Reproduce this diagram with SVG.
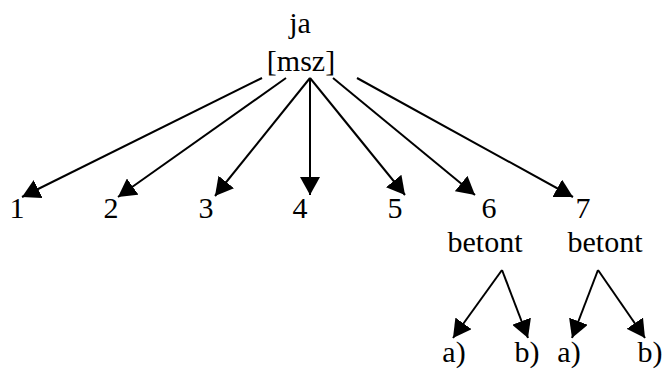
<svg xmlns="http://www.w3.org/2000/svg" width="664" height="369" viewBox="0 0 664 369">
  <defs>
    <marker id="arrow" markerUnits="userSpaceOnUse" viewBox="0 0 18 20" refX="18" refY="10" markerWidth="18" markerHeight="20" orient="auto">
      <path d="M0,0 L18,10 L0,20 Z" fill="#000"/>
    </marker>
    <style>
      .edge { stroke: #000; stroke-width: 2; fill: none; marker-end: url(#arrow); }
    </style>
  </defs>
  <rect width="664" height="369" fill="#fff"/>

  <g font-family="Liberation Serif, serif" font-size="30" fill="#000" text-anchor="middle">
    <g id="root">
      <text x="300" y="33">ja</text>
      <text x="301" y="71">[msz]</text>
    </g>

    <g id="n1"><text x="17" y="218">1</text></g>
    <g id="n2"><text x="111" y="218">2</text></g>
    <g id="n3"><text x="206" y="218">3</text></g>
    <g id="n4"><text x="300" y="218">4</text></g>
    <g id="n5"><text x="395" y="218">5</text></g>
    <g id="n6">
      <text x="489" y="218">6</text>
      <text x="485" y="252">betont</text>
    </g>
    <g id="n7">
      <text x="583" y="218">7</text>
      <text x="605" y="252">betont</text>
    </g>
    <g id="n6a"><text x="454" y="362">a)</text></g>
    <g id="n6b"><text x="527" y="362">b)</text></g>
    <g id="n7a"><text x="569" y="362">a)</text></g>
    <g id="n7b"><text x="650" y="362">b)</text></g>
  </g>

  <g id="connectors">
    <line class="edge" x1="262" y1="78" x2="22" y2="197"/>
    <line class="edge" x1="286" y1="78" x2="118" y2="197"/>
    <line class="edge" x1="310" y1="78" x2="215" y2="196"/>
    <line class="edge" x1="310" y1="78" x2="310" y2="195"/>
    <line class="edge" x1="310" y1="78" x2="405" y2="195"/>
    <line class="edge" x1="333" y1="78" x2="475" y2="195"/>
    <line class="edge" x1="357" y1="78" x2="573" y2="197"/>
    <line class="edge" x1="502" y1="270" x2="453" y2="338"/>
    <line class="edge" x1="502" y1="270" x2="528" y2="338"/>
    <line class="edge" x1="598" y1="270" x2="572" y2="338"/>
    <line class="edge" x1="598" y1="270" x2="645" y2="338"/>
  </g>
</svg>
